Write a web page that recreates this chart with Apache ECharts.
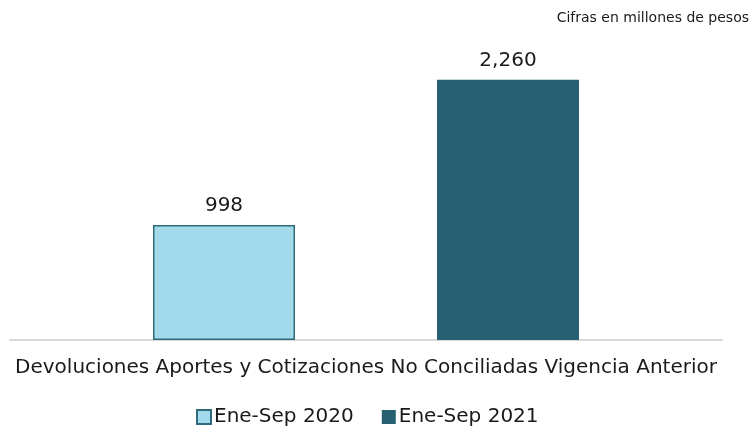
<!DOCTYPE html>
<html lang="es">
  <head>
    <meta charset="UTF-8" />
    <title>Devoluciones Aportes y Cotizaciones</title>
    <script src="https://cdn.jsdelivr.net/npm/echarts@6/dist/echarts.min.js"></script>
    <style>
      html, body { margin: 0; padding: 0; background: #fff; }
      #chart { width: 753px; height: 427px; }
    </style>
  </head>
  <body>
    <div id="chart"></div>
    <script>
      /* ---------- data ---------- */
      const categories = ["Devoluciones Aportes y Cotizaciones No Conciliadas Vigencia Anterior"];
      const seriesNames = ["Ene-Sep 2020", "Ene-Sep 2021"];
      const values2020 = [998];
      const values2021 = [2260];
      const note = "Cifras en millones de pesos";

      const font = "'DejaVu Sans', Verdana, sans-serif";
      const fmt = (v) => v.toLocaleString("en-US");

      const chart = echarts.init(document.getElementById("chart"), null, { renderer: "canvas" });

      const valueLabel = {
        show: true,
        position: "top",
        distance: 9,
        fontSize: 20,
        color: "#1a1a1a",
        fontFamily: font,
        formatter: (p) => fmt(p.value),
      };

      chart.setOption({
        animation: false,
        backgroundColor: "#fff",
        textStyle: { fontFamily: font },
        title: {
          text: note,
          right: -1,
          top: 6,
          textStyle: { fontSize: 14, fontWeight: "normal", color: "#1a1a1a", fontFamily: font },
        },
        grid: { left: 10, right: 31, top: 52, bottom: 87, containLabel: false },
        legend: {
          top: 402,
          left: 191,
          itemWidth: 14,
          itemHeight: 14,
          itemGap: 28,
          icon: "rect",
          textStyle: { fontSize: 20, color: "#1a1a1a", fontFamily: font, padding: [0, 0, 0, -2] },
          data: seriesNames,
        },
        xAxis: {
          type: "category",
          data: categories,
          axisLine: { lineStyle: { color: "#d9d9d9", width: 2 } },
          axisTick: { show: false },
          axisLabel: { fontSize: 20, color: "#1a1a1a", margin: 18, fontFamily: font },
        },
        yAxis: {
          type: "value",
          min: 0,
          max: 2500,
          show: false,
          splitLine: { show: false },
        },
        series: [
          {
            name: seriesNames[0],
            type: "bar",
            data: values2020,
            barWidth: 142,
            barGap: "100%",
            itemStyle: { color: "#a0daeb", borderColor: "#2f6b7b", borderWidth: 1.5 },
            label: valueLabel,
          },
          {
            name: seriesNames[1],
            type: "bar",
            data: values2021,
            barWidth: 142,
            itemStyle: { color: "#276171" },
            label: valueLabel,
          },
        ],
      });
    </script>
  </body>
</html>
